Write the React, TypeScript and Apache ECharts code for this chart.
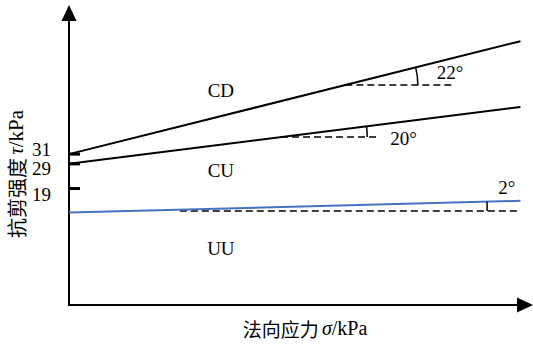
import React, { useEffect, useRef } from "react";
import * as echarts from "echarts";

// Axis extents (σ in arbitrary units, τ in kPa)
const xMax = 100;
const yMax = 60;

// Strength envelopes: intercept at σ = 0 and the value at the right end
const envelopeNames = ["CD", "CU", "UU"];
const envelopeIntercepts = [31, 29, 19];
const envelopeEndX = [99, 99, 99];
const envelopeEndY = [54.2, 40.7, 21.4];
const envelopeColors = ["#000000", "#000000", "#4472C4"];

// Horizontal reference lines used to mark the friction angles
const angleLabels = ["22°", "20°", "2°"];
const refLevels = [45.2, 34.5, 19.3];
const refStartX = [60.6, 46.5, 24.3];
const refEndX = [84.0, 68.2, 98.9];
const arcX = [76.5, 65.4, 91.7];

// Intercepts marked on the τ axis
const tickLabels = ["31", "29", "19"];
const tickValues = [31, 29, 19];

// Test-type labels placed inside the plot
const regionLabels = ["CD", "CU", "UU"];
const regionX = [33.3, 33.3, 33.3];
const regionY = [44.0, 27.7, 11.7];

const SERIF = "Liberation Serif, Times New Roman, serif";
const CJK = "Noto Sans CJK SC, sans-serif";
const LABEL_SIZE = 19;
const TITLE_SIZE = 20;

// pixel nudges for the axis marks and angle labels
const tickShift = [0, 0, -24];
const tickLabelShift = [-5, 5, -18.5];
const angleLabelOffset: [number, number][] = [
  [19, -13],
  [23, 1],
  [11, -24],
];

export default function App() {
  const ref = useRef<HTMLDivElement>(null);

  useEffect(() => {
    if (!ref.current) return;
    const chart = echarts.init(ref.current, undefined, { renderer: "svg" });

    const axisCommon = {
      type: "value" as const,
      min: 0,
      axisTick: { show: false },
      axisLabel: { show: false },
      splitLine: { show: false },
      axisLine: {
        show: true,
        onZero: false,
        symbol: ["none", "triangle"],
        symbolSize: [15, 16],
        lineStyle: { color: "#000", width: 2 },
      },
    };

    const envelopeSeries = envelopeNames.map((name, i) => ({
      type: "line" as const,
      name,
      data: [
        [0, envelopeIntercepts[i]],
        [envelopeEndX[i], envelopeEndY[i]],
      ],
      symbol: "none",
      z: 3,
      lineStyle: { color: envelopeColors[i], width: 2 },
    }));

    const refSeries = refLevels.map((lv, i) => ({
      type: "line" as const,
      data: [
        [refStartX[i], lv],
        [refEndX[i], lv],
      ],
      symbol: "none",
      z: 2,
      lineStyle: { color: "#000", width: 1.5, type: [7, 4] as any },
    }));

    const arcSeries = {
      type: "custom" as const,
      z: 4,
      data: refLevels.map((lv, i) => [arcX[i], lv]),
      renderItem: (params: any, api: any) => {
        const i = params.dataIndex;
        const p0 = api.coord([0, envelopeIntercepts[i]]);
        const p1 = api.coord([envelopeEndX[i], envelopeEndY[i]]);
        const yL = api.coord([0, refLevels[i]])[1];
        const xi = p0[0] + ((yL - p0[1]) * (p1[0] - p0[0])) / (p1[1] - p0[1]);
        const xa = api.coord([arcX[i], refLevels[i]])[0];
        const r = xa - xi;
        const theta = Math.atan2(p0[1] - p1[1], p1[0] - p0[0]);
        const labelPt = [xa + angleLabelOffset[i][0], yL + angleLabelOffset[i][1]];
        return {
          type: "group",
          children: [
            {
              type: "arc",
              shape: { cx: xi, cy: yL, r, startAngle: -theta, endAngle: 0, clockwise: true },
              style: { stroke: "#000", lineWidth: 1.5, fill: "none" },
            },
            {
              type: "text",
              x: labelPt[0],
              y: labelPt[1],
              style: {
                text: angleLabels[i],
                fill: "#000",
                fontSize: LABEL_SIZE,
                fontFamily: SERIF,
                align: "left",
                verticalAlign: "middle",
              },
            },
          ],
        };
      },
    };

    const tickSeries = {
      type: "custom" as const,
      z: 5,
      clip: false,
      data: tickValues.map((v) => [0, v]),
      renderItem: (params: any, api: any) => {
        const i = params.dataIndex;
        const p = api.coord([0, tickValues[i]]);
        const y = p[1] + tickShift[i];
        return {
          type: "group",
          children: [
            {
              type: "line",
              shape: { x1: p[0], y1: y, x2: p[0] + 11, y2: y },
              style: { stroke: "#000", lineWidth: 3 },
            },
            {
              type: "text",
              x: p[0] - 18,
              y: p[1] + tickLabelShift[i],
              style: {
                text: tickLabels[i],
                fill: "#000",
                fontSize: LABEL_SIZE,
                lineHeight: 17,
                fontFamily: SERIF,
                align: "right",
                verticalAlign: "middle",
              },
            },
          ],
        };
      },
    };

    const regionSeries = {
      type: "custom" as const,
      z: 5,
      data: regionLabels.map((_, i) => [regionX[i], regionY[i]]),
      renderItem: (params: any, api: any) => {
        const i = params.dataIndex;
        const p = api.coord([regionX[i], regionY[i]]);
        return {
          type: "text",
          x: p[0],
          y: p[1],
          style: {
            text: regionLabels[i],
            fill: "#000",
            fontSize: LABEL_SIZE,
            fontFamily: SERIF,
            align: "center",
            verticalAlign: "middle",
          },
        };
      },
    };

    const titleRich = (size: number) => ({
      c: { fontFamily: CJK, fontSize: size - 1, fill: "#000" },
      s: { fontFamily: SERIF, fontSize: size, fill: "#000" },
      i: { fontFamily: SERIF, fontSize: size, fontStyle: "italic", fill: "#000" },
    });

    chart.setOption({
      animation: false,
      backgroundColor: "#ffffff",
      grid: { left: 69, right: 8, top: 13, bottom: 42 },
      xAxis: { ...axisCommon, max: xMax },
      yAxis: { ...axisCommon, max: yMax },
      graphic: [
        {
          type: "text",
          x: 16,
          y: 174,
          rotation: Math.PI / 2,
          style: {
            text: "{c|抗剪强度} {i|τ}{s|/kPa}",
            rich: titleRich(TITLE_SIZE + 1),
            align: "center",
            verticalAlign: "middle",
          },
        },
        {
          type: "text",
          x: 305,
          y: 328,
          style: {
            text: "{c|法向应力} {i|σ}{s|/kPa}",
            rich: titleRich(TITLE_SIZE),
            align: "center",
            verticalAlign: "middle",
          },
        },
      ],
      series: [...envelopeSeries, ...refSeries, arcSeries, tickSeries, regionSeries],
    });

    return () => chart.dispose();
  }, []);

  return (
    <div
      ref={ref}
      style={{ position: "fixed", left: 0, top: 0, width: 533, height: 347, background: "#fff" }}
    />
  );
}
